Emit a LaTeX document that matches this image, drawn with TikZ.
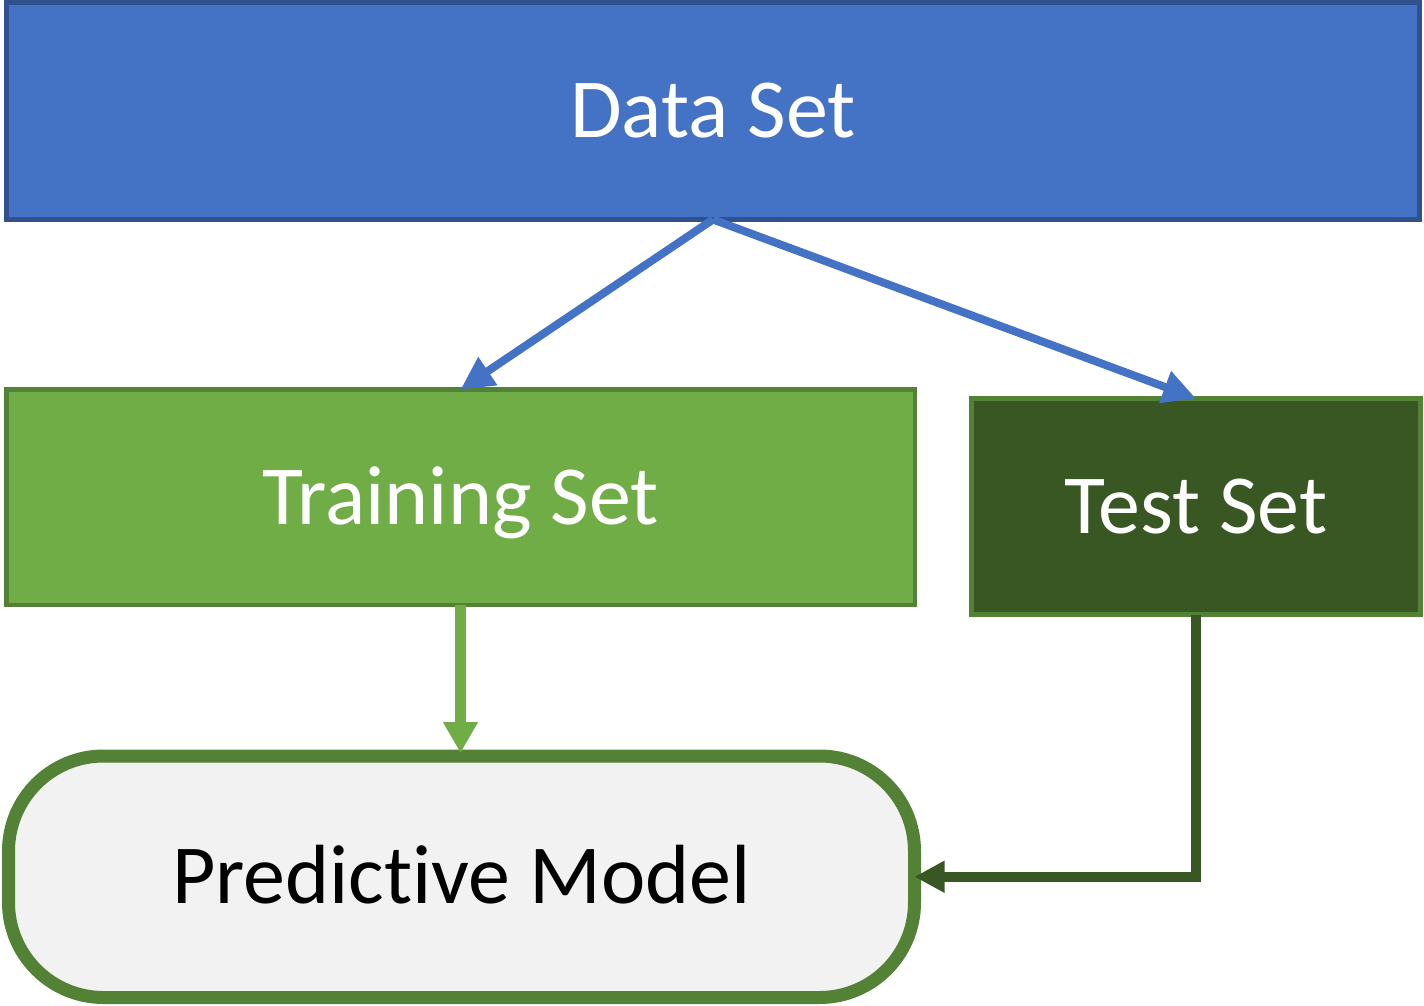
\documentclass[tikz,border=0pt]{standalone}
\usepackage{fontspec}
\setmainfont{Carlito}[Ligatures=NoCommon]
\usetikzlibrary{arrows.meta}
\definecolor{dsfill}{HTML}{4472C4}
\definecolor{dsline}{HTML}{2F528F}
\definecolor{trfill}{HTML}{70AD47}
\definecolor{grline}{HTML}{538135}
\definecolor{tefill}{HTML}{385723}
\definecolor{pmfill}{HTML}{F2F2F2}
\tikzset{
  box/.style={rectangle, inner sep=0pt, outer sep=0pt, align=center,
    font=\fontsize{84}{92}\selectfont, text height=54pt, text depth=0pt},
  bluearrow/.style={draw=dsfill, line width=8pt, -{Triangle[length=33pt,width=32pt]}},
  greenarrow/.style={draw=trfill, line width=11pt, -{Triangle[length=31pt,width=33pt]}},
  darkarrow/.style={draw=tefill, line width=10pt, line join=miter, -{Triangle[length=30pt,width=30pt]}}
}
\begin{document}
\begin{tikzpicture}[x=1pt,y=-1pt]
\useasboundingbox (0,0) rectangle (1424,1006);
\node[box, draw=dsline, fill=dsfill, line width=5pt, text=white,
  minimum width=1413pt, minimum height=217pt] (ds) at (713,111) {Data Set};
\node[box, draw=grline, fill=trfill, line width=4.5pt, text=white,
  minimum width=908.5pt, minimum height=215.5pt] (tr) at (460.5,497.25) {Training Set};
\node[box, draw=grline, fill=tefill, line width=5pt, text=white,
  minimum width=449pt, minimum height=216pt] (te) at (1196,506.5) {Test Set};
\node[box, draw=grline, fill=pmfill, line width=13pt, text=black, rounded corners=95pt,
  minimum width=906pt, minimum height=241.5pt] (pm) at (461.5,876.75) {Predictive Model};
\draw[bluearrow] (ds.south) -- (tr.north);
\draw[bluearrow] (ds.south) -- (te.north);
\draw[greenarrow] (tr.south) -- ([yshift=3pt]pm.north -| tr.south);
\draw[darkarrow] (te.south) |- (pm.east);
\end{tikzpicture}
\end{document}
